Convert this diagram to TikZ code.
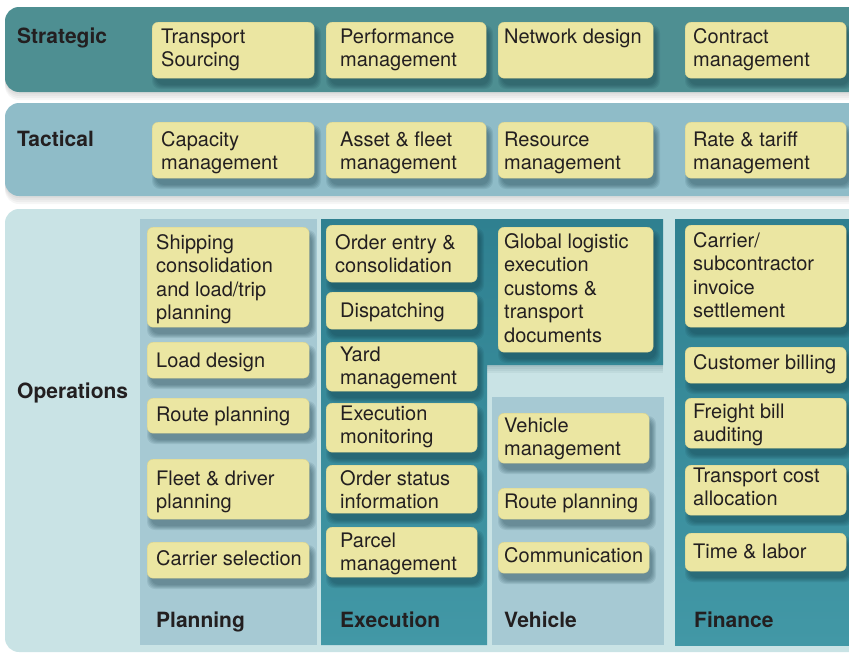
\documentclass[tikz,border=0pt]{standalone}
\usepackage{fontspec}
\setmainfont{TeX Gyre Heros}
\definecolor{stratcol}{HTML}{4E8F92}
\definecolor{tactcol}{HTML}{8FBCC8}
\definecolor{opscol}{HTML}{C9E3E5}
\definecolor{lightcol}{HTML}{A6C9D3}
\definecolor{darktop}{HTML}{2F8090}
\definecolor{darkbot}{HTML}{4298A6}
\definecolor{boxyellow}{HTML}{EBE6A2}
\definecolor{boxedge}{HTML}{D9D28E}
\definecolor{txt}{HTML}{231F20}
\definecolor{shadowcol}{HTML}{0E3440}
\tikzset{
  ybox/.style={fill=boxyellow, draw=boxedge, line width=0.4pt, rounded corners=6pt, inner sep=0pt, anchor=north west},
  ytext/.style={anchor=north west, align=left, inner sep=0pt, text=txt, font=\fontsize{20}{23.5}\selectfont},
  lbl/.style={anchor=base west, inner sep=0pt, text=txt, font=\bfseries\fontsize{21}{25}\selectfont},
}
% name, x, y, w, h, left pad, first baseline offset, text
\newcommand\ybox[8]{%
  \foreach \s in {1,...,5}{%
    \fill[shadowcol, opacity=0.095, rounded corners=8pt] (#2+5-\s,#3+8-\s) rectangle (#2+#4+2+\s,#3+#5+6+\s);}
  \node[ybox, minimum width=#4pt, minimum height=#5pt] (#1) at (#2,#3) {};
  \node[ytext] (#1t) at (#2+#6,#3+#7-15) {\rule{0pt}{15pt}#8};
}
\begin{document}
\begin{tikzpicture}[x=1pt,y=-1pt]
\useasboundingbox (0,0) rectangle (849,653);
\clip (0,0) rectangle (849,653);
% band shadows
\foreach \s in {1,...,4}{%
  \fill[black, opacity=0.035, rounded corners=14pt] (5,12) rectangle (880,92+2*\s);
  \fill[black, opacity=0.035, rounded corners=14pt] (5,112) rectangle (880,196+2*\s);
}
% bands
\fill[stratcol, rounded corners=14pt] (5,7) rectangle (880,92);
\fill[tactcol, rounded corners=14pt] (5,103) rectangle (880,196);
\fill[opscol, rounded corners=14pt] (5,209) rectangle (880,652);
% columns
\fill[lightcol] (140,219) rectangle (317,645);
\foreach \s in {1,...,4}{%
  \fill[shadowcol, opacity=0.05] (487,365) rectangle (663,365+2*\s);}
\shade[top color=darktop, bottom color=darkbot] (321,219) -- (663,219) -- (663,365) -- (487,365) -- (487,645) -- (321,645) -- cycle;
\fill[lightcol] (492,397) rectangle (664,645);
\shade[top color=darktop, bottom color=darkbot] (675,219) rectangle (880,645);
% row labels
\node[lbl] (lstrat) at (17,43) {Strategic};
\node[lbl] (ltact) at (17,146) {Tactical};
\node[lbl] (lops) at (17,398) {Operations};
\node[lbl] (lplan) at (156,627) {Planning};
\node[lbl] (lexec) at (340,627) {Execution};
\node[lbl] (lveh) at (504,627) {Vehicle};
\node[lbl] (lfin) at (694,627) {Finance};
% strategic
\ybox{s1}{152}{22}{162}{56}{9}{21}{Transport\\Sourcing}
\ybox{s2}{326}{22}{160}{56}{14}{21}{Performance\\management}
\ybox{s3}{498}{22}{155}{56}{6}{21}{Network design}
\ybox{s4}{685}{22}{161}{56}{8}{21}{Contract\\management}
% tactical
\ybox{t1}{152}{122}{162}{56}{9}{24}{Capacity\\management}
\ybox{t2}{326}{122}{160}{56}{14}{24}{Asset \& fleet\\management}
\ybox{t3}{498}{122}{155}{56}{6}{24}{Resource\\management}
\ybox{t4}{685}{122}{161}{56}{8}{24}{Rate \& tariff\\management}
% planning
\ybox{p1}{147}{227}{162}{100}{9}{22}{Shipping\\consolidation\\and load/trip\\planning}
\ybox{p2}{147}{342}{162}{36}{9}{25}{Load design}
\ybox{p3}{147}{398}{162}{35}{9}{23}{Route planning}
\ybox{p4}{147}{459}{162}{60}{9}{26}{Fleet \& driver\\planning}
\ybox{p5}{147}{542}{162}{36}{9}{23}{Carrier selection}
% execution
\ybox{e1}{326}{225}{151}{57}{9}{24}{Order entry \&\\consolidation}
\ybox{e2}{326}{292}{151}{37}{14}{25}{Dispatching}
\ybox{e3}{326}{342}{151}{49}{14}{19}{Yard\\management}
\ybox{e4}{326}{403}{151}{49}{14}{17}{Execution\\monitoring}
\ybox{e5}{326}{465}{151}{48}{14}{20}{Order status\\information}
\ybox{e6}{326}{527}{151}{50}{14}{20}{Parcel\\management}
\ybox{g1}{498}{227}{155}{125}{6}{21}{Global logistic\\execution\\customs \&\\transport\\documents}
% vehicle
\ybox{v1}{498}{413}{151}{50}{6}{19}{Vehicle\\management}
\ybox{v2}{498}{488}{151}{31}{6}{20}{Route planning}
\ybox{v3}{498}{542}{151}{31}{6}{20}{Communication}
% finance
\ybox{f1}{685}{225}{161}{102}{8}{22}{Carrier/\\subcontractor\\invoice\\settlement}
\ybox{f2}{685}{347}{161}{36}{8}{22}{Customer billing}
\ybox{f3}{685}{398}{161}{50}{8}{20}{Freight bill\\auditing}
\ybox{f4}{685}{465}{161}{50}{8}{17}{Transport cost\\allocation}
\ybox{f5}{685}{533}{161}{38}{8}{25}{Time \& labor}
\end{tikzpicture}
\end{document}
